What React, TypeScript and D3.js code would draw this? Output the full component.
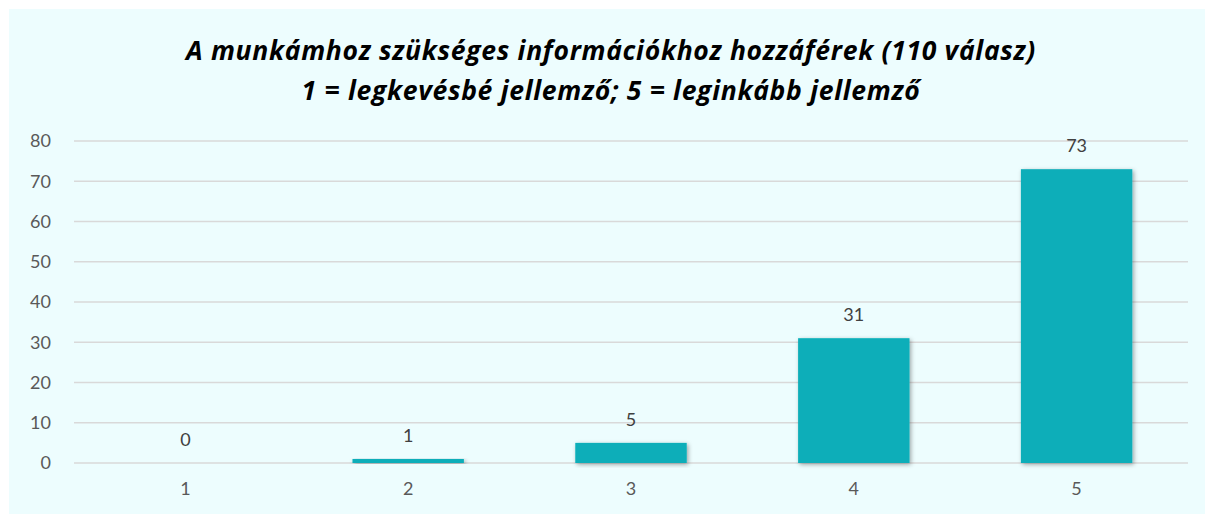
import React from "react";
import * as d3 from "d3";

const categories = ["1", "2", "3", "4", "5"];
const values = [0, 1, 5, 31, 73];
const yTicks = [0, 10, 20, 30, 40, 50, 60, 70, 80];
const titleLines = [
  "A munkámhoz szükséges információkhoz hozzáférek (110 válasz)",
  "1 = legkevésbé jellemző; 5 = leginkább jellemző",
];

export default function App() {
  const W = 1205;
  const H = 514;
  const left = 74;
  const right = 1188;
  const top = 141;
  const bottom = 463;
  const x = d3.scaleBand<string>().domain(categories).range([left, right]).paddingInner(0.5).paddingOuter(0.25);
  const y = d3.scaleLinear().domain([0, 80]).range([bottom, top]);
  const font = "Lato, 'Open Sans', sans-serif";
  const titleFont = "'Open Sans', Lato, sans-serif";
  return (
    <svg width={W} height={H} style={{ position: "absolute", left: 0, top: 0 }}>
      <defs>
        <filter id="sh" x="-20%" y="-20%" width="140%" height="140%">
          <feDropShadow dx="1.5" dy="1.5" stdDeviation="2" floodColor="#000" floodOpacity="0.35" />
        </filter>
      </defs>
      <rect x={0} y={0} width={W} height={H} fill="#ffffff" />
      <rect x={9} y={9} width={W - 9} height={H - 9} fill="#EDFDFE" />
      {titleLines.map((t, i) => (
        <text key={i} x={611} y={60 + i 	* 40} textAnchor="middle" fontFamily={titleFont} fontWeight="bold" fontStyle="italic" fontSize={26.5} letterSpacing={0.7} fill="#000">
          {t}
        </text>
      ))}
      {yTicks.map((t) => (
        <g key={t}>
          <line x1={left} x2={right} y1={y(t)} y2={y(t)} stroke="#D9D9D9" strokeWidth={1.5} />
          <text x={51} y={y(t)} dy="0.35em" textAnchor="end" fontFamily={font} fontSize={18} fill="#595959">
            {t}
          </text>
        </g>
      ))}
      {categories.map((c, i) => (
        <g key={c}>
          {values[i] > 0 && (
            <rect x={x(c)} y={y(values[i])} width={x.bandwidth()} height={y(0) - y(values[i])} fill="#09AEB9" filter="url(#sh)" />
          )}
          <text x={(x(c) as number) + x.bandwidth() / 2} y={y(values[i]) - 17} textAnchor="middle" fontFamily={font} fontSize={18} fill="#404040">
            {values[i]}
          </text>
          <text x={(x(c) as number) + x.bandwidth() / 2} y={495} textAnchor="middle" fontFamily={font} fontSize={18} fill="#595959">
            {c}
          </text>
        </g>
      ))}
    </svg>
  );
}
